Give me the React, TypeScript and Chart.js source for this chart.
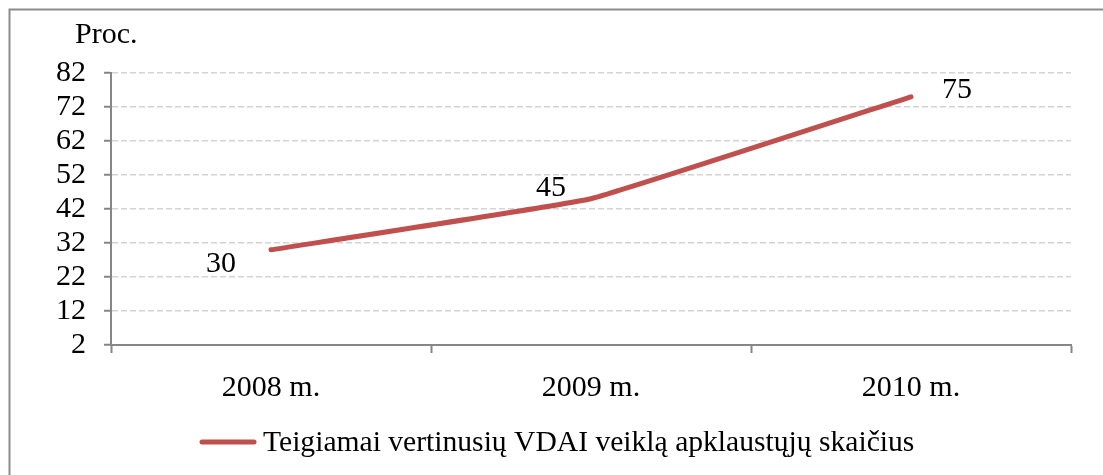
import React, { useEffect, useRef } from "react";
import { Chart, registerables } from "chart.js";

Chart.register(...registerables);

const CATEGORIES = ["2008 m.", "2009 m.", "2010 m."];
const VALUES = [30, 45, 75];
const Y_TICKS = [2, 12, 22, 32, 42, 52, 62, 72, 82];
const SERIES_LABEL = "Teigiamai vertinusių VDAI veiklą apklaustųjų skaičius";
const Y_TITLE = "Proc.";
const LABEL_OFFSETS = [
  [-50, 14],
  [-40, -11],
  [46, -7],
];

const FONT = "'Liberation Serif', 'Times New Roman', serif";
const RED = "#C0504D";
const AXIS = "#868686";

export default function App() {
  const ref = useRef<HTMLCanvasElement | null>(null);

  useEffect(() => {
    if (!ref.current) return;
    const extras = {
      id: "extras",
      beforeDraw(chart: any) {
        const ctx = chart.ctx;
        ctx.save();
        ctx.strokeStyle = "#8C8C8C";
        ctx.lineWidth = 2;
        ctx.strokeRect(9.5, 9.5, 1200, 600);
        ctx.restore();
      },
      afterDatasetsDraw(chart: any) {
        const ctx = chart.ctx;
        const meta = chart.getDatasetMeta(0);
        ctx.save();
        ctx.fillStyle = "#000";
        ctx.font = `30px ${FONT}`;
        ctx.textAlign = "center";
        ctx.textBaseline = "middle";
        meta.data.forEach((pt: any, i: number) => {
          const [dx, dy] = LABEL_OFFSETS[i];
          ctx.fillText(String(VALUES[i]), pt.x + dx, pt.y + dy);
        });
        // y title
        ctx.textAlign = "left";
        ctx.textBaseline = "alphabetic";
        ctx.fillText(Y_TITLE, 75, 43);
        // legend
        ctx.strokeStyle = RED;
        ctx.lineWidth = 5;
        ctx.lineCap = "round";
        ctx.beginPath();
        ctx.moveTo(202, 442);
        ctx.lineTo(254, 442);
        ctx.stroke();
        ctx.font = `29.6px ${FONT}`;
        ctx.textBaseline = "alphabetic";
        ctx.fillText(SERIES_LABEL, 263, 451);
        ctx.restore();
      },
    };

    const chart = new Chart(ref.current, {
      type: "line",
      data: {
        labels: CATEGORIES,
        datasets: [
          {
            label: SERIES_LABEL,
            data: VALUES,
            borderColor: RED,
            backgroundColor: RED,
            borderWidth: 5,
            pointRadius: 0,
            tension: 0.08,
            borderCapStyle: "round",
          },
        ],
      },
      options: {
        animation: false,
        responsive: true,
        maintainAspectRatio: false,
        layout: { padding: { left: 0, top: 73, right: 32, bottom: 0 } },
        plugins: { legend: { display: false }, tooltip: { enabled: false } },
        scales: {
          x: {
            offset: true,
            afterFit: (s: any) => {
              s.height = 130;
            },
            grid: {
              offset: true,
              drawOnChartArea: false,
              tickLength: 8,
              tickColor: AXIS,
              tickWidth: 2,
            },
            border: { color: AXIS, width: 2 },
            ticks: {
              color: "#000",
              padding: 17,
              font: { family: FONT, size: 30 },
            },
          },
          y: {
            min: 2,
            max: 82,
            afterFit: (s: any) => {
              s.width = 111;
            },
            afterBuildTicks: (s: any) => {
              s.ticks = Y_TICKS.map((v) => ({ value: v }));
            },
            grid: {
              color: (c: any) => (c.tick && c.tick.value === 2 ? "rgba(0,0,0,0)" : "#D4D4D4"),
              lineWidth: 1.5,
              tickLength: 7,
              tickColor: AXIS,
              tickWidth: 2,
            },
            border: { color: AXIS, width: 2, dash: [6, 3] },
            ticks: {
              color: "#000",
              autoSkip: false,
              padding: 18,
              font: { family: FONT, size: 30 },
            },
          },
        },
      },
      plugins: [extras],
    });
    return () => chart.destroy();
  }, []);

  return (
    <div style={{ position: "absolute", left: 0, top: 0, width: 1103, height: 475, background: "#fff" }}>
      <canvas ref={ref} />
    </div>
  );
}
